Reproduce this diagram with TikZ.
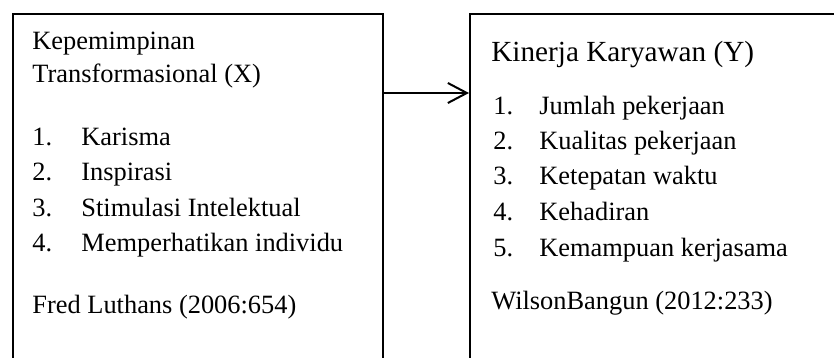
\documentclass[tikz,border=0pt]{standalone}
\usepackage{fontspec}
\setmainfont{Liberation Serif}
\usetikzlibrary{arrows.meta}
\begin{document}
\begin{tikzpicture}[x=0.5pt,y=-0.5pt,
  box/.style={draw=black,line width=1pt,rectangle,anchor=north west,inner sep=0pt},
  txt/.style={anchor=base west,inner sep=0pt,font=\fontsize{13.2pt}{15pt}\selectfont},
  ttl/.style={anchor=base west,inner sep=0pt,font=\fontsize{14.6pt}{17pt}\selectfont},
  conn/.style={line width=1pt,-{Straight Barb[length=9.5pt,width=10pt,line width=1pt]}}]
\useasboundingbox (0,0) rectangle (834,358);
\begin{scope}
\clip (0,0) rectangle (834,358);
\node[box,minimum width=185pt,minimum height=220pt] (lbox) at (12,13) {};
\node[box,minimum width=220pt,minimum height=220pt] (rbox) at (469,13) {};
\coordinate (ay) at (0,93);
\draw[conn] (lbox.east |- ay) -- (rbox.west |- ay);
% left box texts
\node[txt] (l1) at (32,50) {Kepemimpinan};
\node[txt] (l2) at (32,83) {Transformasional (X)};
\node[txt] (ln1) at (32,145) {1.};
\node[txt] (li1) at (81,145) {Karisma};
\node[txt] (ln2) at (32,180.5) {2.};
\node[txt] (li2) at (81,180.5) {Inspirasi};
\node[txt] (ln3) at (32,216) {3.};
\node[txt] (li3) at (81,216) {Stimulasi Intelektual};
\node[txt] (ln4) at (32,251) {4.};
\node[txt] (li4) at (81,251) {Memperhatikan individu};
\node[txt] (lsrc) at (32,313) {Fred Luthans (2006:654)};
% right box texts
\node[ttl] (r1) at (491,62) {Kinerja Karyawan (Y)};
\node[txt] (rn1) at (493,114) {1.};
\node[txt] (ri1) at (539,114) {Jumlah pekerjaan};
\node[txt] (rn2) at (493,149) {2.};
\node[txt] (ri2) at (539,149) {Kualitas pekerjaan};
\node[txt] (rn3) at (493,184.5) {3.};
\node[txt] (ri3) at (539,184.5) {Ketepatan waktu};
\node[txt] (rn4) at (493,220) {4.};
\node[txt] (ri4) at (539,220) {Kehadiran};
\node[txt] (rn5) at (493,256) {5.};
\node[txt] (ri5) at (539,256) {Kemampuan kerjasama};
\node[txt] (rsrc) at (491,309) {WilsonBangun (2012:233)};
\end{scope}
\end{tikzpicture}
\end{document}
